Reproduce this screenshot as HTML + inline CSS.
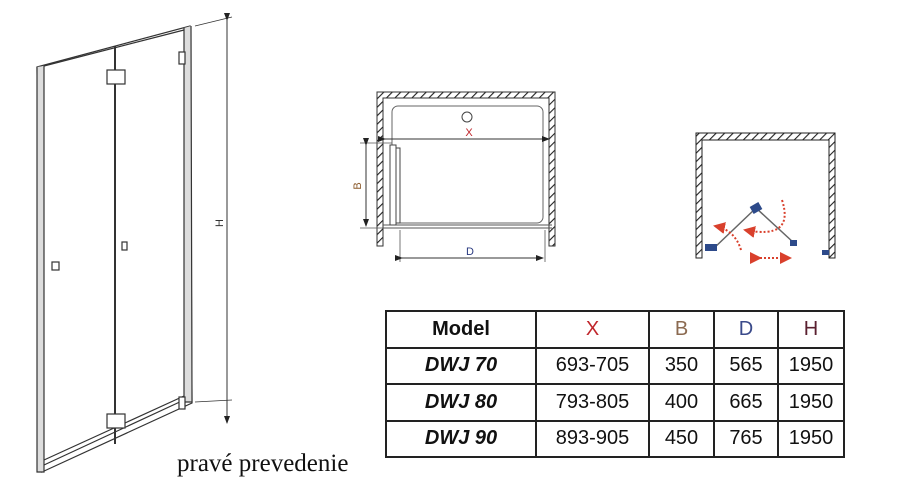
<!DOCTYPE html>
<html><head><meta charset="utf-8"><style>
body{margin:0;background:#fff;width:900px;height:484px;overflow:hidden;position:relative;font-family:"Liberation Sans",sans-serif}
table{position:absolute;left:385px;top:310px;border-collapse:collapse;width:458px;height:148px;table-layout:fixed}
td{border:2.5px solid #222;text-align:center;font-size:20px;color:#111;padding:0}
.m{font-weight:bold;font-style:italic}
</style></head><body>
<svg width="900" height="484" style="position:absolute;left:0;top:0">
<defs>
<pattern id="h" width="6" height="6" patternUnits="userSpaceOnUse" patternTransform="rotate(45)"><rect width="6" height="6" fill="#fff"/><line x1="0" y1="0" x2="0" y2="6" stroke="#222" stroke-width="2.2"/></pattern>
<marker id="a" markerWidth="8" markerHeight="8" refX="7" refY="4" orient="auto"><path d="M0,1 L8,4 L0,7z" fill="#222"/></marker>
<marker id="r" markerWidth="6" markerHeight="6" refX="5" refY="3" orient="auto"><path d="M0,0 L6,3 L0,6z" fill="#d9402c"/></marker>
</defs>
<g stroke="#333" fill="none" stroke-width="1.2">
<path d="M37,67 L190,26 L192,403 L42,472 Z" fill="#fff"/>
<path d="M37,67 L37,472 L44,472 L44,66" fill="#ddd"/>
<path d="M184,28 L184,402 L192,402 L191,26" fill="#ddd"/>
<line x1="44" y1="66" x2="184" y2="30"/>
<line x1="44" y1="465" x2="184" y2="400"/>
<line x1="44" y1="460" x2="184" y2="396"/>
<line x1="115" y1="46" x2="115" y2="444" stroke-width="2"/>
<rect x="107" y="70" width="18" height="14" fill="#fff"/>
<rect x="107" y="414" width="18" height="14" fill="#fff"/>
<rect x="179" y="52" width="6" height="12" fill="#fff"/>
<rect x="179" y="397" width="6" height="12" fill="#fff"/>
<rect x="122" y="242" width="5" height="8" fill="#fff"/>
<rect x="52" y="262" width="7" height="8" fill="#fff"/>
<line x1="195" y1="26" x2="232" y2="17" stroke-width=".8"/>
<line x1="195" y1="402" x2="232" y2="400" stroke-width=".8"/>
<line x1="227" y1="20" x2="227" y2="423" marker-start="url(#a)" marker-end="url(#a)" stroke-width="1"/>
</g>
<text x="223" y="223" font-size="11" transform="rotate(-90 223 223)" text-anchor="middle" fill="#333">H</text>
<path d="M377,246 V92 H555 V246 H549 V98 H383 V246 Z" fill="url(#h)" stroke="#333"/>
<rect x="392" y="106" width="151" height="117" rx="6" fill="none" stroke="#666"/>
<circle cx="467" cy="117" r="5" fill="none" stroke="#444"/>
<line x1="385" y1="139" x2="549" y2="139" stroke="#333" marker-start="url(#a)" marker-end="url(#a)"/>
<text x="469" y="136" font-size="11" text-anchor="middle" fill="#c0262c">X</text>
<line x1="383" y1="225" x2="552" y2="225" stroke="#555"/><line x1="383" y1="228" x2="552" y2="228" stroke="#555"/>
<rect x="390" y="145" width="6" height="80" fill="#fff" stroke="#444"/>
<rect x="396" y="148" width="4" height="75" fill="#fff" stroke="#444"/>
<line x1="360" y1="143" x2="392" y2="143" stroke="#555" stroke-width=".8"/>
<line x1="360" y1="228" x2="385" y2="228" stroke="#555" stroke-width=".8"/>
<line x1="366" y1="145" x2="366" y2="226" stroke="#333" marker-start="url(#a)" marker-end="url(#a)"/>
<text x="361" y="186" font-size="11" text-anchor="middle" fill="#8b5a2b" transform="rotate(-90 361 186)">B</text>
<line x1="400" y1="230" x2="400" y2="262" stroke="#555" stroke-width=".8"/>
<line x1="545" y1="230" x2="545" y2="262" stroke="#555" stroke-width=".8"/>
<line x1="402" y1="258" x2="543" y2="258" stroke="#333" marker-start="url(#a)" marker-end="url(#a)"/>
<text x="470" y="255" font-size="11" text-anchor="middle" fill="#2a3a80">D</text>
<path d="M696,258 V133 H835 V258 H829 V140 H702 V258 Z" fill="url(#h)" stroke="#222"/>
<polyline points="712,250 756,208 794,243" fill="none" stroke="#666" stroke-width="1.5"/>
<rect x="705" y="244" width="12" height="7" fill="#2d4a8a"/>
<rect x="751" y="204" width="10" height="8" fill="#2d4a8a" transform="rotate(-30 756 208)"/>
<rect x="790" y="240" width="7" height="6" fill="#2d4a8a"/>
<rect x="822" y="250" width="7" height="5" fill="#2d4a8a"/>
<g stroke="#d9402c" stroke-width="2" stroke-dasharray="2,2" fill="none">
<path d="M741,250 Q735,230 715,226" marker-end="url(#r)"/>
<path d="M782,200 Q795,240 745,230" marker-end="url(#r)"/>
<path d="M760,258 H790" marker-end="url(#r)" marker-start="url(#r)"/>
</g>
</svg>
<div style="position:absolute;left:177px;top:450px;font-family:'Liberation Serif',serif;font-size:25px;color:#111;white-space:nowrap">pravé prevedenie</div>
<table>
<colgroup><col style="width:150px"><col style="width:113px"><col style="width:65px"><col style="width:64px"><col style="width:66px"></colgroup>
<tr><td style="font-weight:bold">Model</td><td style="color:#c0262c">X</td><td style="color:#8b6a50">B</td><td style="color:#3a4a8a">D</td><td style="color:#5a2030">H</td></tr>
<tr><td class="m">DWJ 70</td><td>693-705</td><td>350</td><td>565</td><td>1950</td></tr>
<tr><td class="m">DWJ 80</td><td>793-805</td><td>400</td><td>665</td><td>1950</td></tr>
<tr><td class="m">DWJ 90</td><td>893-905</td><td>450</td><td>765</td><td>1950</td></tr>
</table>
</body></html>
